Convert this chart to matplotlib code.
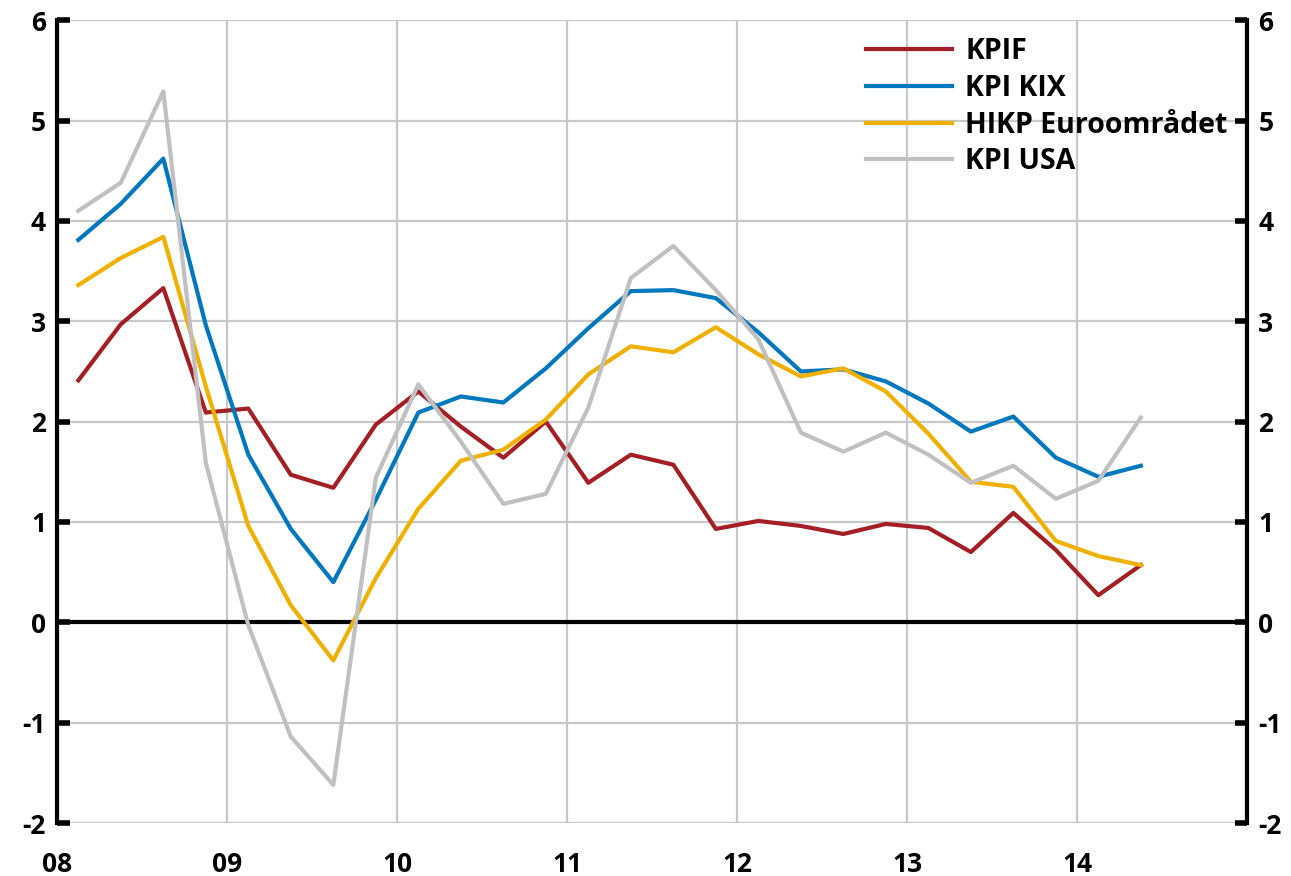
import matplotlib.pyplot as plt
import numpy as np
import pandas as pd

# Kvartalsdata 2008Q1 - 2014Q2, årlig procentuell förändring
kvartal = pd.period_range('2008Q1', '2014Q2', freq='Q')

kpif = [2.41, 2.97, 3.33, 2.09, 2.13, 1.47, 1.34, 1.97, 2.30, 1.95, 1.64, 2.00, 1.39,
        1.67, 1.57, 0.93, 1.01, 0.96, 0.88, 0.98, 0.94, 0.70, 1.09, 0.72, 0.27, 0.57]
kpi_kix = [3.81, 4.17, 4.62, 2.96, 1.67, 0.93, 0.40, 1.22, 2.09, 2.25, 2.19, 2.53, 2.93,
           3.30, 3.31, 3.23, 2.89, 2.50, 2.52, 2.40, 2.18, 1.90, 2.05, 1.64, 1.45, 1.56]
hikp = [3.36, 3.63, 3.84, 2.35, 0.96, 0.17, -0.38, 0.44, 1.13, 1.61, 1.72, 2.02, 2.47,
        2.75, 2.69, 2.94, 2.67, 2.45, 2.53, 2.30, 1.88, 1.40, 1.35, 0.81, 0.66, 0.57]
kpi_usa = [4.10, 4.38, 5.29, 1.59, -0.03, -1.14, -1.62, 1.44, 2.37, 1.80, 1.18, 1.28, 2.14,
           3.43, 3.75, 3.31, 2.82, 1.89, 1.70, 1.89, 1.67, 1.39, 1.56, 1.23, 1.41, 2.04]

serier = ['KPIF', 'KPI KIX', 'HIKP Euroområdet', 'KPI USA']
farger = ['#a31f24', '#0078be', '#f0b000', '#c0c0c0']

ar = [2008, 2009, 2010, 2011, 2012, 2013, 2014]
ar_etiketter = ['08', '09', '10', '11', '12', '13', '14']

x = np.array([p.year + (p.quarter - 0.5) / 4 for p in kvartal])

plt.rcParams['font.family'] = ['Open Sans', 'DejaVu Sans']
plt.rcParams['font.weight'] = 'bold'

fig = plt.figure(figsize=(12.91, 8.76), dpi=100)
ax = fig.add_axes([0.0442, 0.0605, 0.9218, 0.9165])

for data, namn, farg in zip([kpif, kpi_kix, hikp, kpi_usa], serier, farger):
    ax.plot(x, data, color=farg, lw=3.0, label=namn, zorder=3)

ax.axhline(0, color='black', lw=3.0, zorder=2)

ax.set_xlim(2008, 2015)
ax.set_ylim(-2, 6)
ax.set_xticks(ar)
ax.set_xticklabels(ar_etiketter)
ax.set_yticks(range(-2, 7))
ax.set_yticklabels([str(v) for v in range(-2, 7)])

ax.grid(True, color='#c8c8c8', lw=1.6, zorder=0)
ax.set_axisbelow(True)

for s in ['top', 'bottom']:
    ax.spines[s].set_visible(False)
for s in ['left', 'right']:
    ax.spines[s].set_linewidth(3)

ax.tick_params(axis='y', which='major', direction='in', length=9, width=4,
               left=True, right=True, labelleft=True, labelright=True,
               labelsize=19, pad=8)
ax.tick_params(axis='x', length=0, labelsize=19, pad=20)

ax.legend(loc='upper left', bbox_to_anchor=(0.665, 1.0), frameon=False,
          fontsize=20.5, handlelength=3.05, handletextpad=0.45, labelspacing=0.27,
          borderaxespad=0.2)

plt.savefig('out.png', dpi=100)
plt.close()
